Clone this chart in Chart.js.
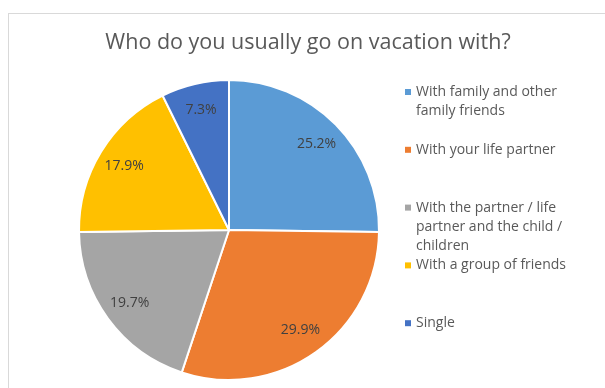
<!DOCTYPE html>
<html>
<head>
<meta charset="utf-8">
<title>Who do you usually go on vacation with?</title>
<script src="https://cdn.jsdelivr.net/npm/chart.js"></script>
<style>
  html, body { margin: 0; padding: 0; background: #fff; }
  canvas { display: block; }
</style>
</head>
<body>
<canvas id="vacationChart" width="605" height="388"></canvas>
<script>
const chartTitle = 'Who do you usually go on vacation with?';

// legend labels, already split into the lines they wrap to
const categories = [
    ['With family and other', 'family friends'],
    ['With your life partner'],
    ['With the partner / life', 'partner and the child /', 'children'],
    ['With a group of friends'],
    ['Single']
];
const shares = [25.2, 29.9, 19.7, 17.9, 7.3];
const sliceColors = ['#5B9BD5', '#ED7D31', '#A5A5A5', '#FFC000', '#4472C4'];

const FONT = "'Open Sans', sans-serif";
const TEXT_COLOR = '#595959';

// outer frame, title, percentage labels and the side legend
const decorations = {
    id: 'decorations',
    beforeDraw(chart) {
        const ctx = chart.ctx;
        ctx.save();
        ctx.fillStyle = '#fff';
        ctx.fillRect(0, 0, chart.width, chart.height);
        ctx.strokeStyle = '#d9d9d9';
        ctx.lineWidth = 1;
        ctx.strokeRect(8.5, 13.5, chart.width + 20, chart.height + 20);
        ctx.restore();
    },
    afterDraw(chart) {
        const ctx = chart.ctx;
        ctx.save();

        // title
        ctx.fillStyle = TEXT_COLOR;
        ctx.font = '21.5px ' + FONT;
        ctx.textAlign = 'center';
        ctx.textBaseline = 'middle';
        ctx.fillText(chartTitle, 308, 43);

        // value labels inside the slices
        const meta = chart.getDatasetMeta(0);
        ctx.fillStyle = '#404040';
        ctx.font = '14px ' + FONT;
        meta.data.forEach((arc, i) => {
            const p = arc.getProps(['x', 'y', 'startAngle', 'endAngle', 'outerRadius']);
            const mid = (p.startAngle + p.endAngle) / 2;
            const r = p.outerRadius * 0.82;
            const label = chart.data.datasets[0].data[i].toFixed(1) + '%';
            ctx.fillText(label, p.x + Math.cos(mid) * r, p.y + Math.sin(mid) * r);
        });

        // legend
        ctx.textAlign = 'left';
        ctx.font = '14px ' + FONT;
        chart.data.labels.forEach((lines, i) => {
            const y0 = 92 + i * 57.8;
            ctx.fillStyle = sliceColors[i];
            ctx.fillRect(405, y0 - 3, 6, 6);
            ctx.fillStyle = TEXT_COLOR;
            lines.forEach((line, k) => ctx.fillText(line, 416, y0 + k * 19.3));
        });

        ctx.restore();
    }
};

new Chart(document.getElementById('vacationChart'), {
    type: 'pie',
    data: {
        labels: categories,
        datasets: [{
            data: shares,
            backgroundColor: sliceColors,
            borderColor: '#ffffff',
            borderWidth: 2
        }]
    },
    options: {
        responsive: false,
        animation: false,
        layout: {
            padding: { left: 77, top: 79, right: 224, bottom: 7 }
        },
        plugins: {
            legend: { display: false },
            title: { display: false },
            tooltip: { enabled: false }
        }
    },
    plugins: [decorations]
});
</script>
</body>
</html>
